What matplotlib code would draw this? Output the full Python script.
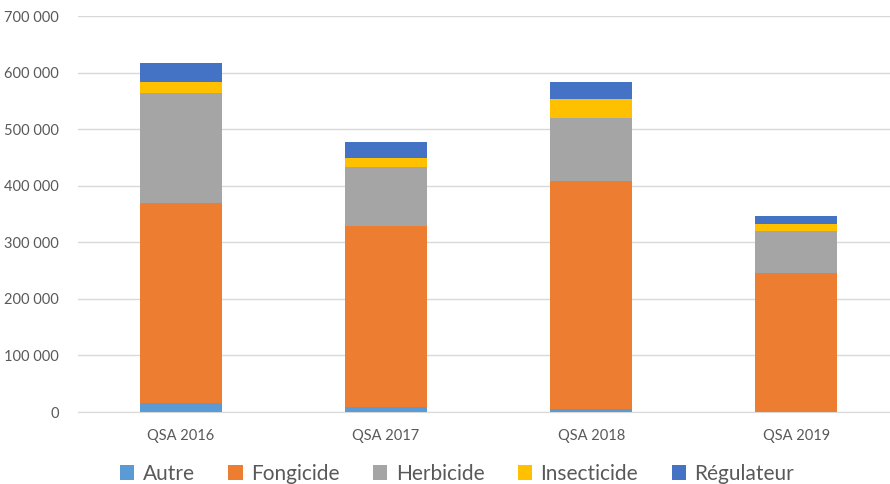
import matplotlib.pyplot as plt
from matplotlib.ticker import FuncFormatter

plt.rcParams['font.family'] = ['Lato', 'DejaVu Sans']

# Values (kg of active substance)
years = ['QSA 2016', 'QSA 2017', 'QSA 2018', 'QSA 2019']
autre = [15400, 9400, 4700, 800]
fongicide = [353500, 319400, 404200, 244900]
herbicide = [194500, 104300, 110800, 74800]
insecticide = [20600, 16500, 33000, 12400]
regulateur = [33500, 27100, 30100, 13600]

series = [
    ('Autre', autre, '#5B9BD5'),
    ('Fongicide', fongicide, '#ED7D31'),
    ('Herbicide', herbicide, '#A5A5A5'),
    ('Insecticide', insecticide, '#FFC000'),
    ('Régulateur', regulateur, '#4472C4'),
]

fig = plt.figure(figsize=(8.9, 4.84), dpi=100)
ax = fig.add_axes([78 / 890, 1 - 412 / 484, 821 / 890, 396 / 484])

x = range(len(years))
bottom = [0] * len(years)
for name, vals, col in series:
    ax.bar(x, vals, width=0.4, bottom=bottom, color=col, label=name,
           linewidth=0, zorder=3)
    bottom = [b + v for b, v in zip(bottom, vals)]

ax.set_xlim(-0.5, 3.5)
ax.set_ylim(0, 700000)
ax.set_yticks(range(0, 700001, 100000))
ax.yaxis.set_major_formatter(FuncFormatter(lambda v, p: f'{int(v):,}'.replace(',', ' ')))
ax.set_xticks(list(x))
ax.set_xticklabels(years)
ax.tick_params(axis='both', length=0, colors='#595959', labelsize=10.5)
ax.tick_params(axis='x', pad=12)
ax.tick_params(axis='y', pad=14)
ax.grid(axis='y', color='#D9D9D9', linewidth=1, zorder=0)
for s in ['top', 'right', 'left']:
    ax.spines[s].set_visible(False)
ax.spines['bottom'].set_color('#D9D9D9')

fig.legend(loc='center', bbox_to_anchor=(457 / 890, 1 - 474 / 484), ncol=5,
           frameon=False, fontsize=15, handlelength=0.7, handleheight=0.7,
           handletextpad=0.4, columnspacing=1.6, labelcolor='#595959')

fig.savefig('out.png', dpi=100)
